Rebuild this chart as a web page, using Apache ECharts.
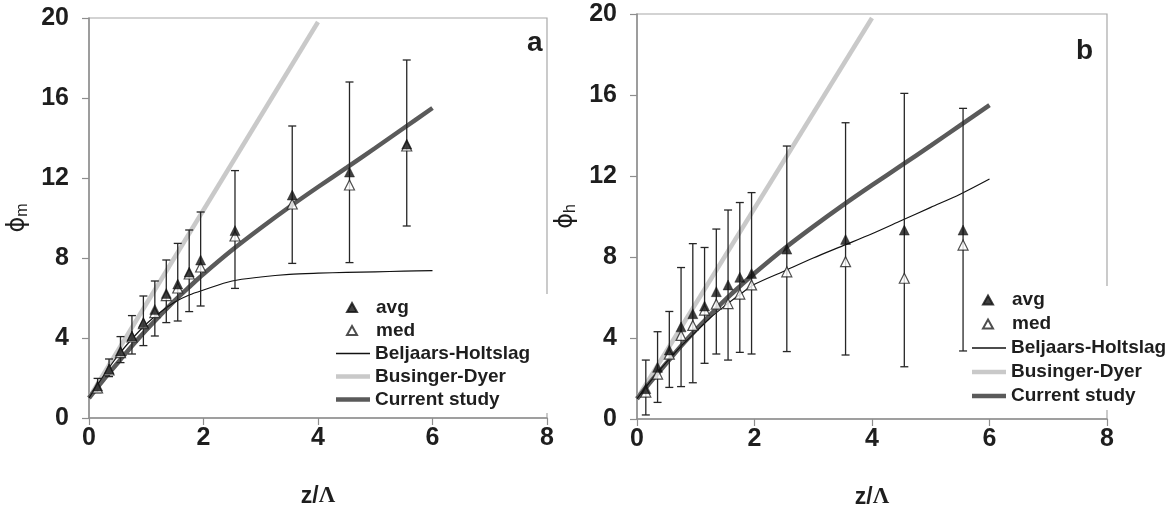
<!DOCTYPE html>
<html>
<head>
<meta charset="utf-8">
<title>phi_m and phi_h vs z/Lambda</title>
<script src="https://cdn.jsdelivr.net/npm/echarts@6/dist/echarts.min.js"></script>
<style>
  html, body { margin: 0; padding: 0; background: #fff; }
  #chart { width: 1169px; height: 518px; }
</style>
</head>
<body>
<div id="chart"></div>
<script>
// bin centres z/Λ, same in both panels
const zObs = [0.15, 0.35, 0.55, 0.75, 0.95, 1.15, 1.35, 1.55, 1.75, 1.95, 2.55, 3.55, 4.55, 5.55];

// panel a : phi_m
const avgM = [1.6, 2.45, 3.35, 4.1, 4.77, 5.43, 6.23, 6.7, 7.3, 7.9, 9.37, 11.15, 12.3, 13.7];
const medM = [1.5, 2.4, 3.27, 4.05, 4.72, 5.27, 6.12, 6.5, 7.2, 7.55, 9.1, 10.7, 11.65, 13.6];
const loM  = [1.27, 2.07, 2.77, 3.2, 3.62, 4.1, 4.77, 4.85, 5.32, 5.6, 6.48, 7.73, 7.77, 9.6];
const hiM  = [1.98, 2.95, 4.07, 5.12, 6.1, 6.85, 7.9, 8.73, 9.4, 10.3, 12.37, 14.6, 16.8, 17.9];

// panel b : phi_h
const avgH = [1.5, 2.55, 3.41, 4.55, 5.2, 5.58, 6.29, 6.62, 7.0, 7.19, 8.39, 8.87, 9.33, 9.33];
const medH = [1.33, 2.22, 3.2, 4.13, 4.62, 5.38, 5.67, 5.7, 6.17, 6.62, 7.27, 7.77, 6.95, 8.59];
const loH  = [0.2, 0.82, 1.56, 1.6, 1.79, 2.75, 3.21, 2.91, 3.29, 3.21, 3.33, 3.16, 2.58, 3.36];
const hiH  = [2.91, 4.31, 5.31, 7.48, 8.66, 8.47, 9.38, 10.32, 10.69, 11.18, 13.48, 14.63, 16.08, 15.34];

// model curves
const zCurve = [0, 0.25, 0.5, 0.75, 1, 1.25, 1.5, 1.75, 2, 2.5, 3, 3.5, 4, 4.5, 5, 5.5, 6];
const currentStudy = [1, 1.9, 2.75, 3.6, 4.4, 5.15, 5.88, 6.55, 7.2, 8.4, 9.5, 10.55, 11.55, 12.52, 13.5, 14.5, 15.5];
const bhM = [1, 2.1, 3.1, 3.95, 4.7, 5.3, 5.8, 6.15, 6.4, 6.85, 7.05, 7.18, 7.24, 7.28, 7.31, 7.34, 7.37];
const bhH = [1, 1.95, 2.8, 3.6, 4.3, 5.0, 5.6, 6.15, 6.65, 7.3, 7.95, 8.55, 9.15, 9.8, 10.45, 11.1, 11.85];
const zBD = [0, 4];
const businger = [1, 19.8];

const xTicks = [0, 2, 4, 6, 8];
const yTicks = [0, 4, 8, 12, 16, 20];

const chart = echarts.init(document.getElementById('chart'));

const zip = (xs, ys) => xs.map((x, i) => [x, ys[i]]);
const ink = '#1e1e1e';
const axisGray = '#8e8e8e';
const sansBold = { fontFamily: 'Liberation Sans, Arial, sans-serif', fontWeight: 'bold', color: ink };
const lineColors = { 'Beljaars-Holtslag': '#111', 'Businger-Dyer': '#c9c9c9', 'Current study': '#5a5a5a' };

// width of legend text, used to stretch the white legend boxes over the frame
const measureCtx = document.createElement('canvas').getContext('2d');
measureCtx.font = 'bold 19px Liberation Sans';
const textW = s => Math.ceil(measureCtx.measureText(s).width);

function xAxisFor(grid) {
  return {
    gridIndex: grid, type: 'value',
    min: xTicks[0], max: xTicks[xTicks.length - 1], interval: 2,
    name: '{a|z/}{b|Λ}', nameLocation: 'middle', nameGap: 67,
    nameTextStyle: {
      rich: {
        a: { fontSize: 23, fontWeight: 'bold', fontFamily: 'Liberation Sans, Arial', color: ink },
        b: { fontSize: 23, fontWeight: 'bold', fontFamily: 'Liberation Serif, Times New Roman, serif', color: ink }
      }
    },
    axisLine: { show: true, lineStyle: { color: axisGray, width: 1.5 } },
    axisTick: { show: true, length: 7, lineStyle: { color: axisGray, width: 1.2 } },
    axisLabel: Object.assign({ fontSize: 25, margin: 8 }, sansBold),
    splitLine: { show: false }
  };
}

function yAxisFor(grid, sub) {
  return {
    gridIndex: grid, type: 'value',
    min: yTicks[0], max: yTicks[yTicks.length - 1], interval: 4,
    name: '{p|ϕ}{s|' + sub + '}', nameLocation: 'middle', nameGap: 58,
    nameTextStyle: {
      rich: {
        p: { fontSize: 24, fontFamily: 'DejaVu Sans', color: ink },
        s: { fontSize: 16, fontFamily: 'Liberation Sans, Arial', color: ink, padding: [10, 0, 0, 0] }
      }
    },
    axisLine: { show: true, lineStyle: { color: axisGray, width: 1.5 } },
    axisTick: { show: true, length: 7, lineStyle: { color: axisGray, width: 1.2 } },
    axisLabel: Object.assign({ fontSize: 25, margin: 20 }, sansBold),
    splitLine: { show: false }
  };
}

function lineSeries(name, grid, xs, ys, width, z) {
  const color = lineColors[name];
  return {
    name: name, type: 'line', xAxisIndex: grid, yAxisIndex: grid,
    data: zip(xs, ys), symbol: 'none', showSymbol: false, smooth: 0.3,
    lineStyle: { color: color, width: width }, itemStyle: { color: color },
    z: z, silent: true
  };
}

function errorBars(grid, lo, hi) {
  return {
    type: 'custom', xAxisIndex: grid, yAxisIndex: grid, silent: true, z: 5,
    data: zObs.map((z, i) => [z, lo[i], hi[i]]),
    renderItem: function (params, api) {
      const top = api.coord([api.value(0), api.value(2)]);
      const bot = api.coord([api.value(0), api.value(1)]);
      const w = 4;
      const st = { stroke: '#262626', lineWidth: 1.3 };
      return {
        type: 'group',
        children: [
          { type: 'line', shape: { x1: top[0], y1: top[1], x2: bot[0], y2: bot[1] }, style: st },
          { type: 'line', shape: { x1: top[0] - w, y1: top[1], x2: top[0] + w, y2: top[1] }, style: st },
          { type: 'line', shape: { x1: bot[0] - w, y1: bot[1], x2: bot[0] + w, y2: bot[1] }, style: st }
        ]
      };
    }
  };
}

function pointSeries(name, grid, ys, filled) {
  return {
    name: name, type: 'scatter', xAxisIndex: grid, yAxisIndex: grid,
    data: zip(zObs, ys), symbol: 'triangle', symbolSize: 10,
    itemStyle: filled
      ? { color: '#111', borderColor: '#111', borderWidth: 0.5 }
      : { color: '#fff', borderColor: '#222', borderWidth: 1.2 },
    z: filled ? 7 : 6
  };
}

// legend block: one legend for the two markers, one legend per model line.
// text starts at left + 45 in every row; boxes are white up to rightEdge
function legendBlock(left, top, lh, rightEdge) {
  const text = Object.assign({ fontSize: 19, lineHeight: lh }, sansBold);
  const textX = left + 45;
  const out = [];
  const markW = Math.max(textW('avg'), textW('med'));
  out.push({
    orient: 'vertical', left: left, top: top, itemWidth: 10, itemHeight: 9, itemGap: 2,
    icon: 'triangle', padding: [3, Math.max(0, rightEdge - textX - markW), 0, 16],
    backgroundColor: '#fff', selectedMode: false,
    data: ['avg', 'med'], textStyle: Object.assign({ padding: [0, 0, 0, 14] }, text)
  });
  let y = top + 3 + lh * 2 + 2;
  const lines = [['Beljaars-Holtslag', 1.4], ['Businger-Dyer', 4.5], ['Current study', 4.5]];
  lines.forEach(function (it, k) {
    const padTop = k === 0 ? 2 : 0;
    const padBot = k === lines.length - 1 ? 3 : 2;
    out.push({
      orient: 'vertical', left: left, top: y, itemWidth: 34, itemHeight: it[1],
      icon: 'rect', padding: [padTop, Math.max(0, rightEdge - textX - textW(it[0])), padBot, 6],
      backgroundColor: '#fff', selectedMode: false,
      data: [{ name: it[0], itemStyle: { color: lineColors[it[0]] } }], textStyle: text
    });
    y += padTop + lh + padBot;
  });
  return out;
}

const option = {
  backgroundColor: '#fff',
  animation: false,
  grid: [
    { left: 89, top: 18, width: 458, height: 400, show: true, borderColor: '#a8a8a8', borderWidth: 1.2, backgroundColor: 'transparent' },
    { left: 637, top: 14, width: 470, height: 405, show: true, borderColor: '#a8a8a8', borderWidth: 1.2, backgroundColor: 'transparent' }
  ],
  xAxis: [xAxisFor(0), xAxisFor(1)],
  yAxis: [yAxisFor(0, 'm'), yAxisFor(1, 'h')],
  legend: legendBlock(330, 294, 21, 554).concat(legendBlock(966, 286, 22, 1169)),
  graphic: [
    { type: 'text', left: 527, top: 29, style: { text: 'a', font: 'bold 28px Liberation Sans', fill: ink } },
    { type: 'text', left: 1076, top: 37, style: { text: 'b', font: 'bold 28px Liberation Sans', fill: ink } }
  ],
  series: [
    lineSeries('Businger-Dyer', 0, zBD, businger, 4.5, 2),
    lineSeries('Current study', 0, zCurve, currentStudy, 4.5, 3),
    lineSeries('Beljaars-Holtslag', 0, zCurve, bhM, 1.2, 4),
    errorBars(0, loM, hiM),
    pointSeries('med', 0, medM, false),
    pointSeries('avg', 0, avgM, true),

    lineSeries('Businger-Dyer', 1, zBD, businger, 4.5, 2),
    lineSeries('Current study', 1, zCurve, currentStudy, 4.5, 3),
    lineSeries('Beljaars-Holtslag', 1, zCurve, bhH, 1.2, 4),
    errorBars(1, loH, hiH),
    pointSeries('med', 1, medH, false),
    pointSeries('avg', 1, avgH, true)
  ]
};

chart.setOption(option);
</script>
</body>
</html>
